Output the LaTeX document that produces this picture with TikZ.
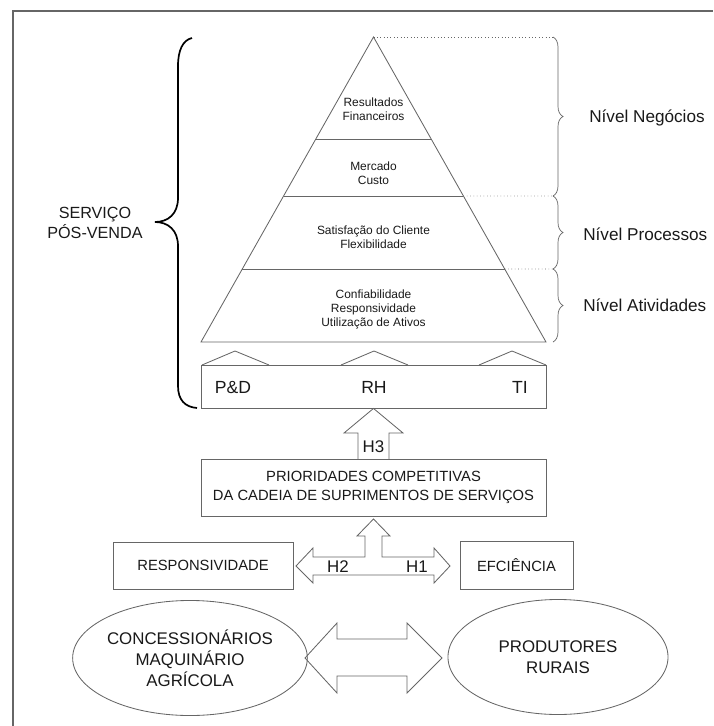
\documentclass[tikz,border=0pt]{standalone}
\usepackage{fontspec}
\setmainfont{Liberation Sans}
\usetikzlibrary{calc,shapes.geometric,decorations.pathreplacing}
\definecolor{linegray}{gray}{0.4}
\definecolor{textgray}{gray}{0.1}
\begin{document}
\begin{tikzpicture}[x=0.025cm,y=-0.025cm,
    line/.style={draw=linegray,line width=0.6pt},
    box/.style={line,rectangle,inner sep=0pt},
    level/.style={text=textgray,align=center,font=\fontsize{8.5}{10}\selectfont},
    tag/.style={text=textgray,anchor=west,inner sep=0pt,font=\fontsize{12.2}{15}\selectfont},
    caps/.style={text=textgray,align=center,font=\fontsize{10.5}{13.5}\selectfont},
    hlabel/.style={text=textgray,font=\fontsize{12}{14}\selectfont},
    oval/.style={line,ellipse,inner sep=0pt,text=textgray,align=center,font=\fontsize{12}{15}\selectfont},
    sidebrace/.style={draw=linegray,line width=0.5pt,decorate,decoration={brace,amplitude=0.25cm}},
    dots/.style={draw=linegray,dotted,line width=0.4pt}]
  \useasboundingbox (0,0) rectangle (713,726);
  % frame
  \draw[linegray,line width=0.8pt] (13,726) -- (13,11) -- (713,11);
  % pyramid
  \coordinate (apex) at (373.5,37);
  \coordinate (bl) at (201,342);
  \coordinate (br) at (546,342);
  \draw[line] (apex) -- (bl) -- (br) -- cycle;
  \foreach \f/\n in {0.3344/a,0.5213/b,0.7607/c}
    \draw[line] ($(apex)!\f!(bl)$) coordinate (l\n) -- ($(apex)!\f!(br)$) coordinate (r\n);
  \node[level] (fin) at (373.5,109) {Resultados\\Financeiros};
  \node[level] (mkt) at (373.5,173) {Mercado\\Custo};
  \node[level] (sat) at (373.5,237) {Satisfação do Cliente\\Flexibilidade};
  \node[level] (conf) at (373.5,309) {Confiabilidade\\Responsividade\\Utilização de Ativos};
  % levels on the right
  \coordinate (t0) at (553,37);
  \coordinate (t1) at (553,196);
  \coordinate (t2) at (553,269);
  \coordinate (t3) at (553,342);
  \draw[dots] (apex) -- (t0);
  \draw[dots] (rb) -- (t1);
  \draw[dots] (rc) -- (t2);
  \draw[sidebrace] (t0) -- (t1);
  \draw[sidebrace] (t1) -- (t2);
  \draw[sidebrace] (t2) -- (t3);
  \node[tag] (neg) at (589,118) {Nível Negócios};
  \node[tag] (proc) at (583,234) {Nível Processos};
  \node[tag] (atv) at (583,305) {Nível Atividades};
  % left brace
  \draw[black,line width=1.2pt] (192,38) .. controls (183,40) and (178,50) .. (178,66)
    -- (178,198) .. controls (178,214) and (168,222) .. (155,222)
    .. controls (168,222) and (178,230) .. (178,246)
    -- (178,386) .. controls (178,400) and (185,407) .. (197,408);
  \node[text=textgray,align=center,font=\fontsize{11.5}{14}\selectfont] (spv) at (95,223) {SERVIÇO\\PÓS-VENDA};
  % base
  \node[box,minimum width=8.625cm,minimum height=1.075cm] (base) at (373.5,386.5) {};
  \foreach \x in {235,374,512}
    \draw[line] (\x-33,365) -- (\x,351) -- (\x+34,365);
  \node[hlabel,font=\fontsize{12.5}{14}\selectfont] (pd) at (233,387) {P\&D};
  \node[hlabel,font=\fontsize{12.5}{14}\selectfont] (rh) at (374,387) {RH};
  \node[hlabel,font=\fontsize{12.5}{14}\selectfont] (ti) at (520,387) {TI};
  % priorities
  \node[box,caps,minimum width=8.625cm,minimum height=1.425cm] (prio) at (373.5,487.5)
    {PRIORIDADES COMPETITIVAS\\DA CADEIA DE SUPRIMENTOS DE SERVIÇOS};
  \draw[line] (358,459) -- (358,433) -- (344,433) -- (base.south) -- (403,433) -- (389,433) -- (389,459);
  \node[hlabel] (h3) at (373.5,447) {H3};
  \node[box,caps,minimum width=4.5cm,minimum height=1.175cm] (resp) at (203,565.5) {RESPONSIVIDADE};
  \node[box,caps,minimum width=2.825cm,minimum height=1.2cm] (eff) at (516.5,565) {EFCIÊNCIA};
  \draw[line] (373.5,519) -- (390,536) -- (382,536) -- (382,557) -- (434,557) -- (434,548)
    -- (450,566) -- (434,583) -- (434,575) -- (313,575) -- (313,583) -- (296,566)
    -- (313,548) -- (313,557) -- (365,557) -- (365,536) -- (357,536) -- cycle;
  \node[hlabel] (h2) at (338,567) {H2};
  \node[hlabel] (h1) at (417,567) {H1};
  % actors
  \node[oval,minimum width=5.425cm,minimum height=2.875cm] (dealer) at (190,658)
    {CONCESSIONÁRIOS\\MAQUINÁRIO\\AGRÍCOLA};
  \node[oval,minimum width=5.5cm,minimum height=2.875cm] (farmer) at (558,657)
    {PRODUTORES\\RURAIS};
  \draw[line] (305,658) -- (337,623) -- (337,639) -- (407,639) -- (407,623) -- (442,658)
    -- (407,693) -- (407,676) -- (337,676) -- (337,693) -- cycle;
\end{tikzpicture}
\end{document}
